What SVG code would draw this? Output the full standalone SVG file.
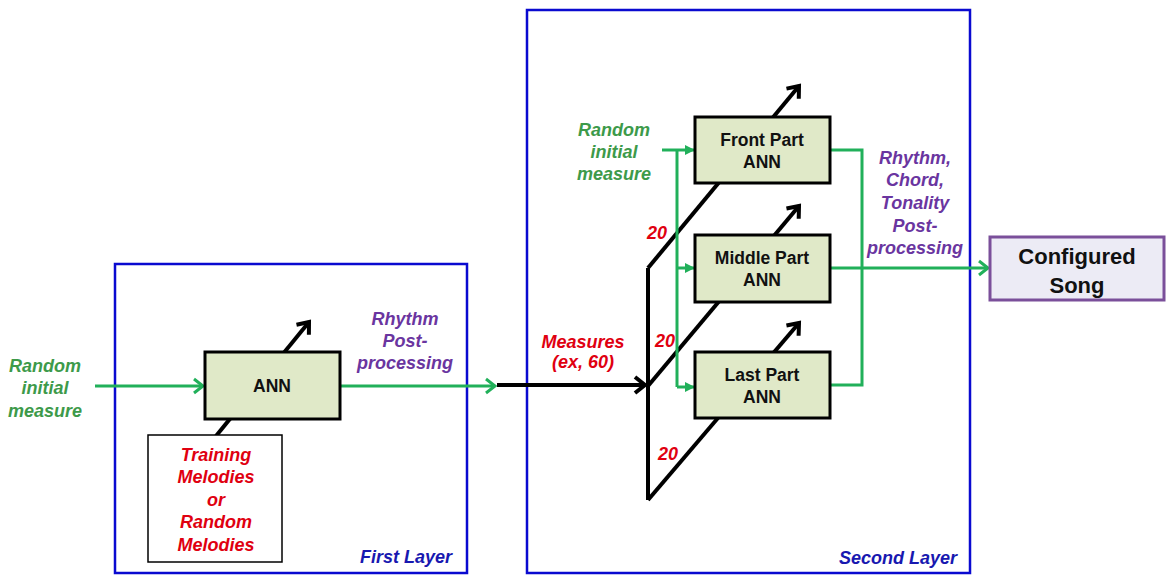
<svg xmlns="http://www.w3.org/2000/svg" width="1166" height="575" viewBox="0 0 1166 575">
<style>
.layer{fill:none;stroke:#0a0ad0;stroke-width:2.5}
.ann{fill:#e0e9c8;stroke:#000;stroke-width:3}
.nt{font-family:"Liberation Sans",Arial,sans-serif;font-weight:bold;font-size:17.5px;fill:#111;text-anchor:middle}
.it{font-family:"Liberation Sans",Arial,sans-serif;font-weight:bold;font-style:italic;font-size:18px;text-anchor:middle}
.g{fill:#3d9a4a}.p{fill:#6a35a0}.r{fill:#e00010}.b{fill:#1818b0}
.bk{fill:none;stroke:#000;stroke-width:4;stroke-linejoin:miter}
.gr{fill:none;stroke:#21b05a;stroke-width:3}
</style>
<defs>
<marker id="ab" markerUnits="userSpaceOnUse" markerWidth="24" markerHeight="24" refX="12" refY="10" orient="auto" overflow="visible">
<path d="M2,2 L12,10 L2,18" fill="none" stroke="#000" stroke-width="4"/>
</marker>
<marker id="ag" markerUnits="userSpaceOnUse" markerWidth="24" markerHeight="24" refX="12" refY="10" orient="auto" overflow="visible">
<path d="M3,3 L12,10 L3,17" fill="none" stroke="#21b05a" stroke-width="3"/>
</marker>
<marker id="as" markerUnits="userSpaceOnUse" markerWidth="12" markerHeight="12" refX="9" refY="5" orient="auto" overflow="visible">
<path d="M0,0 L10,5 L0,10 Z" fill="#21b05a"/>
</marker>
</defs>
<rect class="layer" x="115" y="264" width="352" height="309"/>
<rect class="layer" x="527" y="10" width="443" height="563"/>
<g id="connectors">
<path class="gr" d="M95,386 H203" marker-end="url(#ag)"/>
<path class="gr" d="M340,386 H495" marker-end="url(#ag)"/>
<path class="bk" d="M497,385 H645" marker-end="url(#ab)"/>
<path class="bk" d="M216,436 L309,322" marker-end="url(#ab)"/>
<path class="bk" d="M648,268 V500"/>
<path class="bk" d="M648,268 L799,86" marker-end="url(#ab)"/>
<path class="bk" d="M648,386 L799,206" marker-end="url(#ab)"/>
<path class="bk" d="M648,500 L799,323" marker-end="url(#ab)"/>
<path class="gr" d="M662,150 H694" marker-end="url(#as)"/>
<path class="gr" d="M677,150 V387"/>
<path class="gr" d="M677,268 H694" marker-end="url(#as)"/>
<path class="gr" d="M677,387 H694" marker-end="url(#as)"/>
<path class="gr" d="M830,150 H862 V385 H830"/>
<path class="gr" d="M830,268 H988" marker-end="url(#ag)"/>
</g>
<g id="ann1">
<rect class="ann" x="205" y="352" width="135" height="67"/>
<text class="nt" x="272" y="392">ANN</text>
</g>
<g id="training">
<rect x="148" y="435" width="134" height="127" fill="#fff" stroke="#000" stroke-width="1.5"/>
<text class="it r" x="216" y="461">Training</text>
<text class="it r" x="216" y="483">Melodies</text>
<text class="it r" x="216" y="506">or</text>
<text class="it r" x="216" y="528">Random</text>
<text class="it r" x="216" y="551">Melodies</text>
</g>
<g id="front">
<rect class="ann" x="695" y="117" width="135" height="66"/>
<text class="nt" x="762" y="146">Front Part</text>
<text class="nt" x="762" y="168">ANN</text>
</g>
<g id="middle">
<rect class="ann" x="695" y="235" width="135" height="67"/>
<text class="nt" x="762" y="264">Middle Part</text>
<text class="nt" x="762" y="286">ANN</text>
</g>
<g id="last">
<rect class="ann" x="695" y="352" width="135" height="66"/>
<text class="nt" x="762" y="381">Last Part</text>
<text class="nt" x="762" y="403">ANN</text>
</g>
<g id="song">
<rect x="990" y="237" width="174" height="63" fill="#ecebf5" stroke="#7a4f9a" stroke-width="3"/>
<text class="nt" x="1077" y="264" style="font-size:22px">Configured</text>
<text class="nt" x="1077" y="293" style="font-size:22px">Song</text>
</g>
<g id="labels">
<text class="it g" x="45" y="372">Random</text>
<text class="it g" x="45" y="394">initial</text>
<text class="it g" x="45" y="417">measure</text>
<text class="it p" x="405" y="325">Rhythm</text>
<text class="it p" x="405" y="347">Post-</text>
<text class="it p" x="405" y="369">processing</text>
<text class="it r" x="583" y="348">Measures</text>
<text class="it r" x="583" y="368">(ex, 60)</text>
<text class="it g" x="614" y="136">Random</text>
<text class="it g" x="614" y="158">initial</text>
<text class="it g" x="614" y="180">measure</text>
<text class="it p" x="915" y="164">Rhythm,</text>
<text class="it p" x="915" y="186">Chord,</text>
<text class="it p" x="915" y="209">Tonality</text>
<text class="it p" x="915" y="232">Post-</text>
<text class="it p" x="915" y="254">processing</text>
<text class="it r" x="657" y="239">20</text>
<text class="it r" x="665" y="347">20</text>
<text class="it r" x="668" y="460">20</text>
<text class="it b" x="406" y="563">First Layer</text>
<text class="it b" x="898" y="564">Second Layer</text>
</g>
</svg>
